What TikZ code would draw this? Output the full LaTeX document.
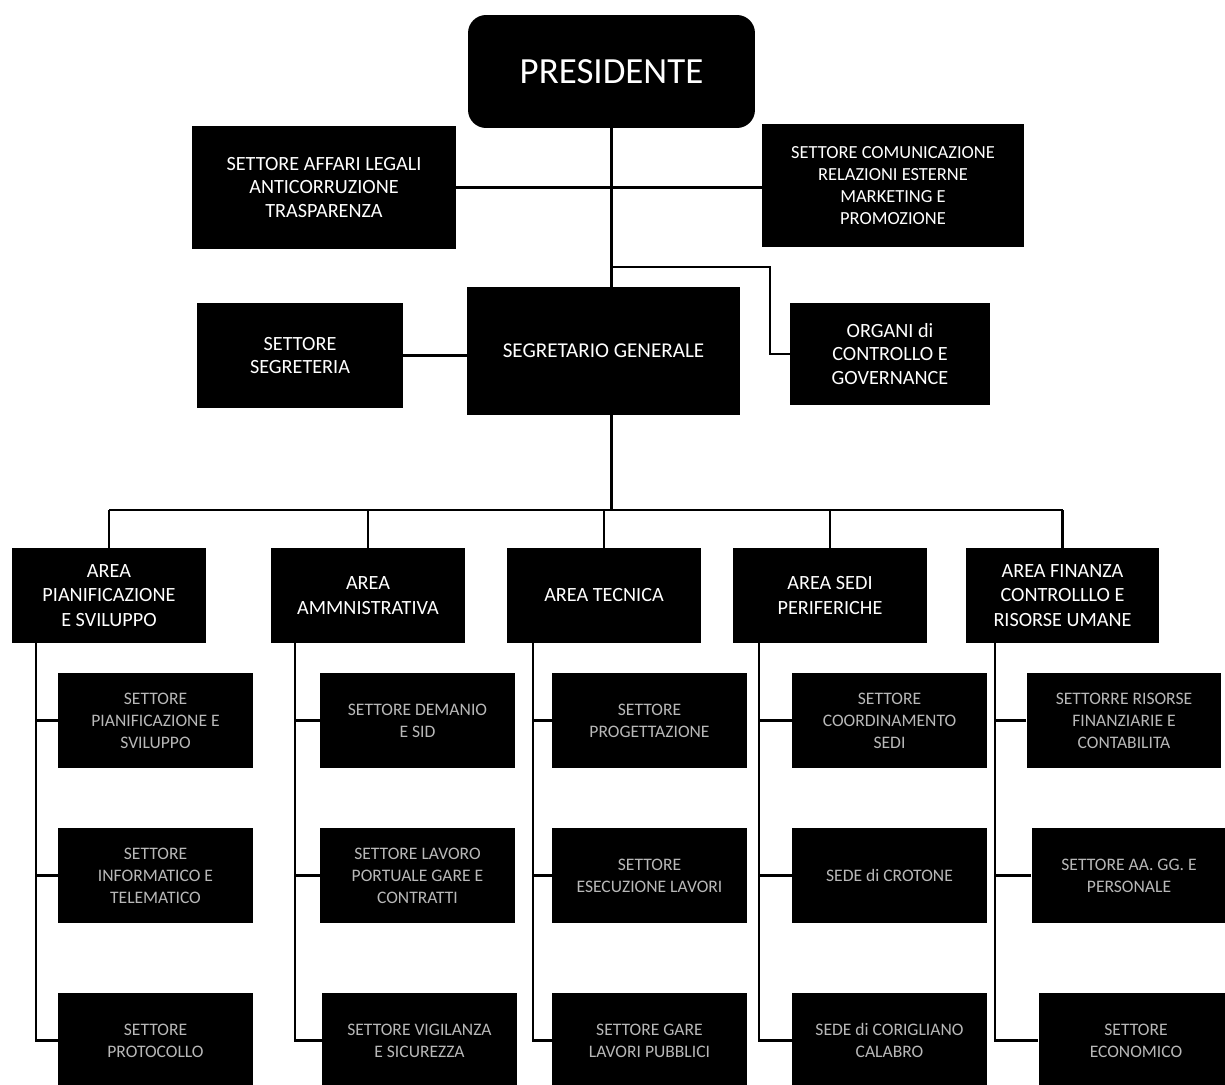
\documentclass[tikz,border=0pt]{standalone}
\usepackage{fontspec}
\setmainfont{Carlito}
\begin{document}
\begin{tikzpicture}[x=0.02cm,y=-0.02cm,
  blk/.style={fill=black,draw=none,text=white,align=center,inner sep=0pt,
    font=\fontsize{11.5}{13.6}\selectfont},
  topbox/.style={blk},
  areabox/.style={blk,minimum width=3.88cm,minimum height=1.9cm,
    font=\fontsize{11.5}{13.9}\selectfont},
  subbox/.style={blk,minimum width=3.9cm,minimum height=1.9cm,
    text=white!72!black,font=\fontsize{10}{12.5}\selectfont},
  conn/.style={draw=black,line width=1.3pt}]
\useasboundingbox[fill=white] (0,0) rectangle (1225,1085);

% top level
\node[topbox,rounded corners=0.36cm,minimum width=5.74cm,minimum height=2.26cm,
  font=\fontsize{21}{25}\selectfont] (pres) at (611.5,71.5) {PRESIDENTE};
\node[topbox,minimum width=5.28cm,minimum height=2.46cm] (aff) at (324,187.5)
  {SETTORE AFFARI LEGALI\\ANTICORRUZIONE\\TRASPARENZA};
\node[topbox,minimum width=5.24cm,minimum height=2.46cm,
  font=\fontsize{10.5}{12.5}\selectfont] (com) at (893,185.5)
  {SETTORE COMUNICAZIONE\\RELAZIONI ESTERNE\\MARKETING E\\PROMOZIONE};
\node[topbox,minimum width=5.46cm,minimum height=2.56cm,
  font=\fontsize{12}{14}\selectfont] (seg) at (603.5,351) {SEGRETARIO GENERALE};
\node[topbox,minimum width=4.12cm,minimum height=2.1cm] (segr) at (300,355.5)
  {SETTORE\\SEGRETERIA};
\node[topbox,minimum width=4.0cm,minimum height=2.04cm] (org) at (890,354)
  {ORGANI di\\CONTROLLO E\\GOVERNANCE};

% areas
\node[areabox] (a1) at (109,595.5) {AREA\\PIANIFICAZIONE\\E SVILUPPO};
\node[areabox] (a2) at (368,595.5) {AREA\\AMMNISTRATIVA};
\node[areabox] (a3) at (604,595.5) {AREA TECNICA};
\node[areabox] (a4) at (830,595.5) {AREA SEDI\\PERIFERICHE};
\node[areabox] (a5) at (1062.5,595.5) {AREA FINANZA\\CONTROLLLO E\\RISORSE UMANE};

% sub boxes
\node[subbox] (p1) at (155.5,720.5) {SETTORE\\PIANIFICAZIONE E\\SVILUPPO};
\node[subbox] (p2) at (155.5,875.5) {SETTORE\\INFORMATICO E\\TELEMATICO};
\node[subbox] (p3) at (155.5,1040.5) {SETTORE\\PROTOCOLLO};
\node[subbox] (m1) at (417.5,720.5) {SETTORE DEMANIO\\E SID};
\node[subbox] (m2) at (417.5,875.5) {SETTORE LAVORO\\PORTUALE GARE E\\CONTRATTI};
\node[subbox] (m3) at (419.5,1040.5) {SETTORE VIGILANZA\\E SICUREZZA};
\node[subbox] (t1) at (649.5,720.5) {SETTORE\\PROGETTAZIONE};
\node[subbox] (t2) at (649.5,875.5) {SETTORE\\ESECUZIONE LAVORI};
\node[subbox] (t3) at (649.5,1040.5) {SETTORE GARE\\LAVORI PUBBLICI};
\node[subbox] (s1) at (889.5,720.5) {SETTORE\\COORDINAMENTO\\SEDI};
\node[subbox] (s2) at (889.5,875.5) {SEDE di CROTONE};
\node[subbox] (s3) at (889.5,1040.5) {SEDE di CORIGLIANO\\CALABRO};
\node[subbox] (f1) at (1124,720.5) {SETTORRE RISORSE\\FINANZIARIE E\\CONTABILITA};
\node[subbox] (f2) at (1129,875.5) {SETTORE AA. GG. E\\PERSONALE};
\node[subbox] (f3) at (1136,1040.5) {SETTORE\\ECONOMICO};

% top connectors
\draw[conn] (pres.south) -- (pres.south |- seg.north);
\draw[conn] (aff.east) -- (aff.east -| com.west);
\coordinate (ok) at (770,267);
\draw[conn] (pres.south |- ok) -- (ok) |- (org.west);
\draw[conn] (segr.east) -- (segr.east -| seg.west);

% bus to areas
\coordinate (bus) at (611,510);
\draw[conn] (pres.south |- seg.south) -- (pres.south |- bus);
\draw[conn] (a1.north |- bus) -- (a5.north |- bus);
\foreach \a in {a1,a2,a3,a4,a5} \draw[conn] (\a.north |- bus) -- (\a.north);

% column connectors
\coordinate (v1) at ([xshift=0.48cm]a1.south west);
\coordinate (v2) at ([xshift=0.48cm]a2.south west);
\coordinate (v3) at ([xshift=0.52cm]a3.south west);
\coordinate (v4) at ([xshift=0.52cm]a4.south west);
\coordinate (v5) at ([xshift=0.6cm]a5.south west);
\draw[conn] (v1) |- (p3.west);
\draw[conn] (p1.west) -- (p1.west -| v1);
\draw[conn] (p2.west) -- (p2.west -| v1);
\draw[conn] (v2) |- (m3.west);
\draw[conn] (m1.west) -- (m1.west -| v2);
\draw[conn] (m2.west) -- (m2.west -| v2);
\draw[conn] (v3) |- (t3.west);
\draw[conn] (t1.west) -- (t1.west -| v3);
\draw[conn] (t2.west) -- (t2.west -| v3);
\draw[conn] (v4) |- (s3.west);
\draw[conn] (s1.west) -- (s1.west -| v4);
\draw[conn] (s2.west) -- (s2.west -| v4);
\draw[conn] (v5) |- (f3.west);
\draw[conn] (f1.west) -- (f1.west -| v5);
\draw[conn] (f2.west) -- (f2.west -| v5);
\end{tikzpicture}
\end{document}
